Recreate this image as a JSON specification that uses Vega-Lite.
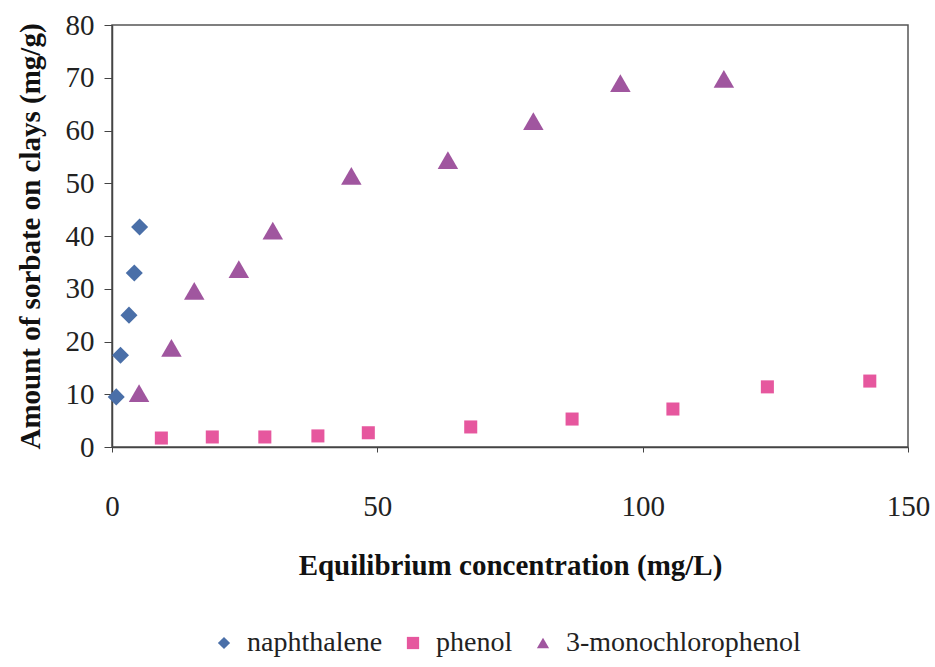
{
  "$schema": "https://vega.github.io/schema/vega-lite/v6.json",
  "width": 796,
  "height": 422,
  "autosize": {"type": "none"},
  "padding": {"left": 112, "top": 25, "right": 27, "bottom": 220},
  "background": "white",
  "config": {
    "font": "Liberation Serif",
    "view": {"stroke": "#555", "strokeWidth": 1.5}
  },
  "data": {
    "values": [
      {"series": "naphthalene", "x": 0.8, "y": 9.5},
      {"series": "naphthalene", "x": 1.6, "y": 17.4},
      {"series": "naphthalene", "x": 3.2, "y": 25},
      {"series": "naphthalene", "x": 4.2, "y": 33},
      {"series": "naphthalene", "x": 5.2, "y": 41.7},
      {"series": "phenol", "x": 9.3, "y": 1.7},
      {"series": "phenol", "x": 18.9, "y": 1.9},
      {"series": "phenol", "x": 28.8, "y": 1.9},
      {"series": "phenol", "x": 38.8, "y": 2.1},
      {"series": "phenol", "x": 48.3, "y": 2.7},
      {"series": "phenol", "x": 67.6, "y": 3.8},
      {"series": "phenol", "x": 86.7, "y": 5.3},
      {"series": "phenol", "x": 105.7, "y": 7.2},
      {"series": "phenol", "x": 123.5, "y": 11.4},
      {"series": "phenol", "x": 142.8, "y": 12.5},
      {"series": "3-monochlorophenol", "x": 5.1, "y": 10.2},
      {"series": "3-monochlorophenol", "x": 11.2, "y": 18.8},
      {"series": "3-monochlorophenol", "x": 15.5, "y": 29.6},
      {"series": "3-monochlorophenol", "x": 23.9, "y": 33.7},
      {"series": "3-monochlorophenol", "x": 30.3, "y": 41},
      {"series": "3-monochlorophenol", "x": 45.1, "y": 51.4},
      {"series": "3-monochlorophenol", "x": 63.3, "y": 54.4},
      {"series": "3-monochlorophenol", "x": 79.4, "y": 61.8},
      {"series": "3-monochlorophenol", "x": 95.8, "y": 69},
      {"series": "3-monochlorophenol", "x": 115.3, "y": 69.8}
    ]
  },
  "encoding": {
    "x": {
      "field": "x", "type": "quantitative",
      "scale": {"domain": [0, 150], "nice": false},
      "axis": {
        "values": [0, 50, 100, 150],
        "grid": false,
        "title": "Equilibrium concentration (mg/L)",
        "titleFont": "Liberation Serif", "titleFontSize": 29, "titleFontWeight": "bold",
        "titleColor": "#111", "titlePadding": 30,
        "labelFont": "Liberation Serif", "labelFontSize": 29, "labelColor": "#222",
        "labelPadding": 40, "tickSize": 5, "tickColor": "#444",
        "domainColor": "#444", "domainWidth": 1.5, "labelFlush": false
      }
    },
    "y": {
      "field": "y", "type": "quantitative",
      "scale": {"domain": [0, 80], "nice": false},
      "axis": {
        "values": [0, 10, 20, 30, 40, 50, 60, 70, 80],
        "grid": false,
        "title": "Amount of sorbate on clays (mg/g)",
        "titleFont": "Liberation Serif", "titleFontSize": 29, "titleFontWeight": "bold",
        "titleColor": "#111", "titlePadding": 20,
        "labelFont": "Liberation Serif", "labelFontSize": 29, "labelColor": "#222",
        "labelPadding": 10, "tickSize": 8, "tickColor": "#444",
        "domainColor": "#444", "domainWidth": 1.5
      }
    },
    "shape": {
      "field": "series", "type": "nominal",
      "scale": {"domain": ["naphthalene", "phenol", "3-monochlorophenol"], "range": ["diamond", "square", "triangle-up"]},
      "legend": {
        "orient": "none", "direction": "horizontal", "title": null,
        "legendX": 98, "legendY": 604,
        "labelFont": "Liberation Serif", "labelFontSize": 28, "labelColor": "#222", "labelLimit": 500,
        "symbolSize": 150, "columnPadding": 16, "labelOffset": 9
      }
    },
    "color": {
      "field": "series", "type": "nominal",
      "scale": {"domain": ["naphthalene", "phenol", "3-monochlorophenol"], "range": ["#4a6fa8", "#e6579e", "#a0569f"]},
      "legend": {
        "orient": "none", "direction": "horizontal", "title": null,
        "legendX": 98, "legendY": 604,
        "labelFont": "Liberation Serif", "labelFontSize": 28, "labelColor": "#222", "labelLimit": 500,
        "symbolSize": 150, "columnPadding": 16, "labelOffset": 9
      }
    }
  },
  "layer": [
    {
      "transform": [{"filter": "datum.series === 'naphthalene'"}],
      "mark": {"type": "point", "filled": true, "opacity": 1, "size": 290}
    },
    {
      "transform": [{"filter": "datum.series === 'phenol'"}],
      "mark": {"type": "point", "filled": true, "opacity": 1, "size": 170}
    },
    {
      "transform": [{"filter": "datum.series === '3-monochlorophenol'"}],
      "mark": {"type": "point", "filled": true, "opacity": 1, "size": 420}
    }
  ]
}
